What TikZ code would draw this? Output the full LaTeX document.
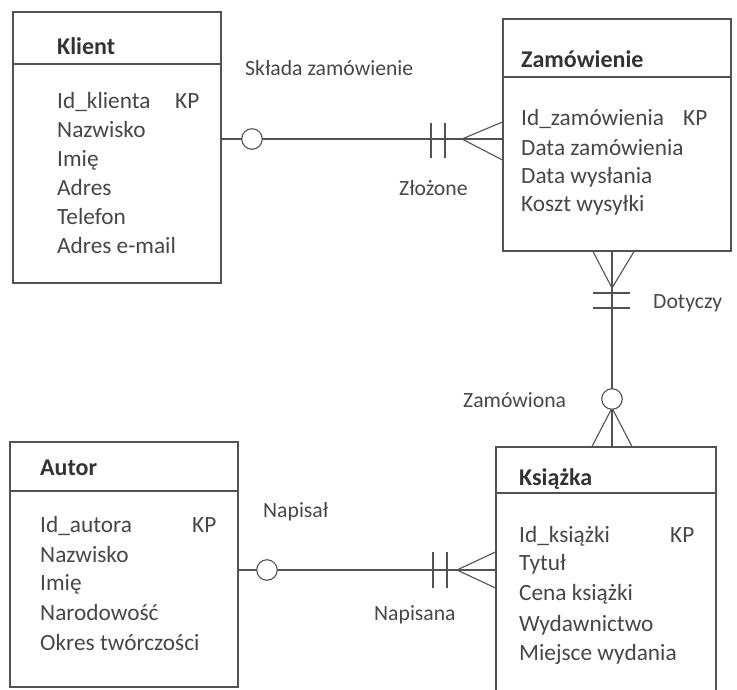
\documentclass[tikz,border=0pt]{standalone}
\usepackage{fontspec}
\setmainfont{Carlito}
\usetikzlibrary{calc}
\definecolor{linecol}{gray}{0.32}
\definecolor{textcol}{gray}{0.28}
\tikzset{
  ent/.style={draw=linecol, line width=1.1pt, inner sep=0pt},
  hdr/.style={draw=linecol, line width=1.1pt},
  conn/.style={draw=linecol, line width=1.1pt},
  txt/.style={anchor=base west, inner sep=0pt, text=textcol, font=\fontsize{23.3}{28}\selectfont},
  lbl/.style={anchor=base west, inner sep=0pt, text=textcol, font=\fontsize{21.7}{26}\selectfont},
  ttl/.style={anchor=base west, inner sep=0pt, text=black!80, font=\fontsize{24}{28}\selectfont\bfseries},
  ring/.style={circle, draw=linecol, line width=1.1pt, fill=white, minimum size=20.5pt, inner sep=0pt},
}
\begin{document}
\begin{tikzpicture}[x=1pt,y=-1pt]
\useasboundingbox[fill=white] (0,0) rectangle (737,689);
\begin{scope}
\clip (0,0) rectangle (737,689);
% entity boxes
\node[ent, minimum width=208pt, minimum height=271pt] (klient) at (117,147.5) {};
\node[ent, minimum width=228pt, minimum height=232pt] (zam) at (617,135) {};
\node[ent, minimum width=220pt, minimum height=260pt] (ksiazka) at (606,577) {};
\node[ent, minimum width=228pt, minimum height=245pt] (autor) at (124,564.5) {};
% header lines
\draw[hdr] (klient.west |- 0,64) -- (klient.east |- 0,64);
\draw[hdr] (zam.west |- 0,77) -- (zam.east |- 0,77);
\draw[hdr] (ksiazka.west |- 0,493) -- (ksiazka.east |- 0,493);
\draw[hdr] (autor.west |- 0,491) -- (autor.east |- 0,491);
\end{scope}

% Klient
\node[ttl] (kt) at (57,54) {Klient};
\node[txt] (k1) at (57,108) {Id\_klienta};
\node[txt] (k1kp) at (175,108) {KP};
\node[txt] (k2) at (57,137) {Nazwisko};
\node[txt] (k3) at (57,166) {Imię};
\node[txt] (k4) at (57,195) {Adres};
\node[txt] (k5) at (57,224) {Telefon};
\node[txt] (k6) at (57,253) {Adres e-mail};

% Zamówienie
\node[ttl] (zt) at (521,67) {Zamówienie};
\node[txt] (z1) at (521,125) {Id\_zamówienia};
\node[txt] (z1kp) at (683,125) {KP};
\node[txt] (z2) at (521,155) {Data zamówienia};
\node[txt] (z3) at (521,183) {Data wysłania};
\node[txt] (z4) at (521,211) {Koszt wysyłki};

% Książka
\node[ttl] (st) at (519,485) {Książka};
\node[txt] (s1) at (519,542) {Id\_książki};
\node[txt] (s1kp) at (670,542) {KP};
\node[txt] (s2) at (519,570) {Tytuł};
\node[txt] (s3) at (519,600) {Cena książki};
\node[txt] (s4) at (519,631) {Wydawnictwo};
\node[txt] (s5) at (519,660) {Miejsce wydania};

% Autor
\node[ttl] (at) at (40,475) {Autor};
\node[txt] (a1) at (40,532) {Id\_autora};
\node[txt] (a1kp) at (192,532) {KP};
\node[txt] (a2) at (40,562) {Nazwisko};
\node[txt] (a3) at (40,590) {Imię};
\node[txt] (a4) at (40,620) {Narodowość};
\node[txt] (a5) at (40,650) {Okres twórczości};

% relationship labels
\node[lbl] (l1) at (245,75) {Składa zamówienie};
\node[lbl] (l2) at (399,195) {Złożone};
\node[lbl] (l3) at (653,308) {Dotyczy};
\node[lbl] (l4) at (463,407) {Zamówiona};
\node[lbl] (l5) at (263,517) {Napisał};
\node[lbl] (l6) at (374,620) {Napisana};

% ---- Klient -- Zamówienie
\coordinate (r1) at (0,139);
\coordinate (r1a) at (462,139);
\draw[conn] (klient.east |- r1) -- (zam.west |- r1);
\node[ring] (o1) at (252,139) {};
\draw[conn] (431,123) -- (431,158);
\draw[conn] (445,123) -- (445,158);
\draw[conn] (zam.west |- 0,122) -- (r1a) -- (zam.west |- 0,160);

% ---- Zamówienie -- Książka
\coordinate (r2) at (612,0);
\coordinate (r2a) at (612,288);
\coordinate (r2b) at (612,408);
\draw[conn] (zam.south -| r2) -- (ksiazka.north -| r2);
\draw[conn] (zam.south -| 593,0) -- (r2a) -- (zam.south -| 634,0);
\draw[conn] (593,293) -- (630,293);
\draw[conn] (593,308) -- (630,308);
\draw[conn] (ksiazka.north -| 592,0) -- (r2b) -- (ksiazka.north -| 632,0);
\node[ring] (o2) at (612,399) {};

% ---- Autor -- Książka
\coordinate (r3) at (0,570);
\coordinate (r3a) at (457,570);
\draw[conn] (autor.east |- r3) -- (ksiazka.west |- r3);
\node[ring] (o3) at (267,570) {};
\draw[conn] (433,552) -- (433,588);
\draw[conn] (447,552) -- (447,588);
\draw[conn] (ksiazka.west |- 0,552) -- (r3a) -- (ksiazka.west |- 0,588);
\end{tikzpicture}
\end{document}
